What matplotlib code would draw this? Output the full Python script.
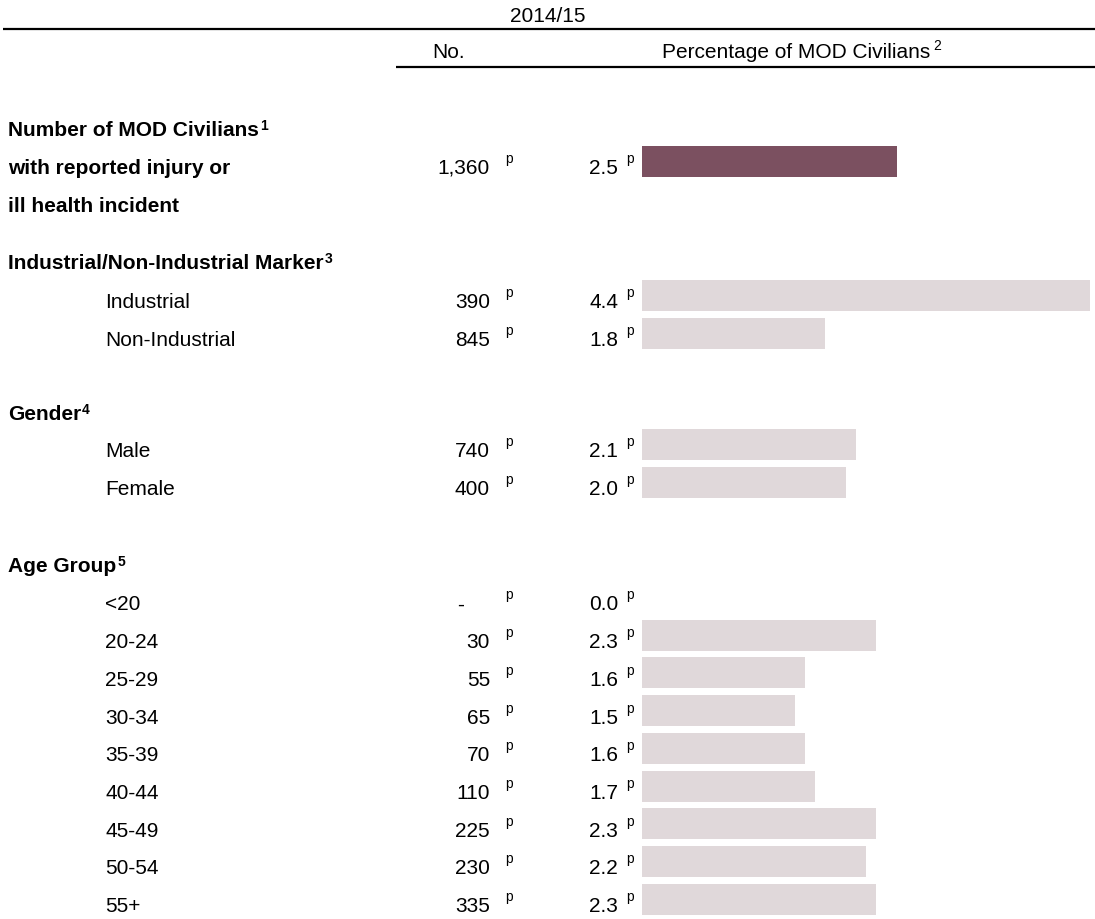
import matplotlib.pyplot as plt

plt.rcParams['font.family'] = ['Liberation Sans', 'DejaVu Sans']

# table contents
year_label = "2014/15"
count_header = "No."
pct_header = "Percentage of MOD Civilians"
pct_header_note = "2"

total_lines = ["Number of MOD Civilians", "with reported injury or", "ill health incident"]
total_note = "1"
total_count = "1,360"
total_pct = 2.5

group_titles = ["Industrial/Non-Industrial Marker", "Gender", "Age Group"]
group_notes = ["3", "4", "5"]
group_rows = [
    ["Industrial", "Non-Industrial"],
    ["Male", "Female"],
    ["<20", "20-24", "25-29", "30-34", "35-39", "40-44", "45-49", "50-54", "55+"],
]
group_counts = [
    ["390", "845"],
    ["740", "400"],
    ["-", "30", "55", "65", "70", "110", "225", "230", "335"],
]
group_pcts = [
    [4.4, 1.8],
    [2.1, 2.0],
    [0.0, 2.3, 1.6, 1.5, 1.6, 1.7, 2.3, 2.2, 2.3],
]
flag = "p"  # provisional marker

# layout (pixel units, y measured from the top)
W, H = 1095, 920
FS = 15
FLAG_FS = 10
LINE_STEP = 37.5
ROW_STEP = 37.7
group_title_y = [262, 413, 565]
group_first_y = [301, 450, 603]
total_y = 129
count_right = 490
dash_right = 464
count_flag_x = 505
pct_right = 618
pct_flag_x = 626
bar_left, bar_right = 642, 1090
bar_height = 31
bar_shift = -4.5
dark_bar = "#7B5060"
light_bar = "#E0D8DA"

fig = plt.figure(figsize=(W / 100, H / 100), dpi=100)
ax = fig.add_axes([0, 0, 1, 1])
ax.set_xlim(0, W)
ax.set_ylim(H, 0)
ax.axis("off")

pct_max = max(max(p) for p in group_pcts)
bx = fig.add_axes([bar_left / W, 0, (bar_right - bar_left) / W, 1])
bx.set_xlim(0, pct_max)
bx.set_ylim(H, 0)
bx.axis("off")

renderer = fig.canvas.get_renderer()


def text_with_note(x, base, text, note, ha="left", weight="normal",
                   raise_by=6, note_size=10, gap=1):
    t = ax.text(x, base, text, ha=ha, va="baseline", fontsize=FS, fontweight=weight)
    ext = t.get_window_extent(renderer=renderer)
    right = ax.transData.inverted().transform((ext.x1, ext.y0))[0]
    ax.text(right + gap, base - raise_by, note, ha="left", va="baseline",
            fontsize=note_size, fontweight=weight)


def value_row(yc, count, pct, color):
    base = yc + 7.5
    cx = dash_right if count == "-" else count_right
    ax.text(cx, base, count, ha="right", va="baseline", fontsize=FS)
    ax.text(count_flag_x, base - 11, flag, ha="left", va="baseline", fontsize=FLAG_FS)
    ax.text(pct_right, base, f"{pct:.1f}", ha="right", va="baseline", fontsize=FS)
    ax.text(pct_flag_x, base - 11, flag, ha="left", va="baseline", fontsize=FLAG_FS)
    if pct > 0:
        bx.barh(yc + bar_shift, pct, height=bar_height, left=0, color=color, linewidth=0)


# header
ax.text(548, 22, year_label, ha="center", va="baseline", fontsize=FS)
ax.hlines(30, 3, W, color="black", linewidth=1.6)
ax.text(449, 58, count_header, ha="center", va="baseline", fontsize=FS)
text_with_note(662, 58, pct_header, pct_header_note, raise_by=8, note_size=10, gap=3)
ax.hlines(68, 396, W, color="black", linewidth=1.6)

# overall total
for i, line in enumerate(total_lines):
    base = total_y + i * LINE_STEP + 7.5
    if i == 0:
        text_with_note(8, base, line, total_note, weight="bold")
    else:
        ax.text(8, base, line, ha="left", va="baseline", fontsize=FS, fontweight="bold")
value_row(total_y + LINE_STEP, total_count, total_pct, dark_bar)

# breakdowns
for g, title in enumerate(group_titles):
    text_with_note(8, group_title_y[g] + 7.5, title, group_notes[g], weight="bold")
    for r, label in enumerate(group_rows[g]):
        yc = group_first_y[g] + r * ROW_STEP
        ax.text(105, yc + 7.5, label, ha="left", va="baseline", fontsize=FS)
        value_row(yc, group_counts[g][r], group_pcts[g][r], light_bar)

fig.savefig("out.png", dpi=100)
